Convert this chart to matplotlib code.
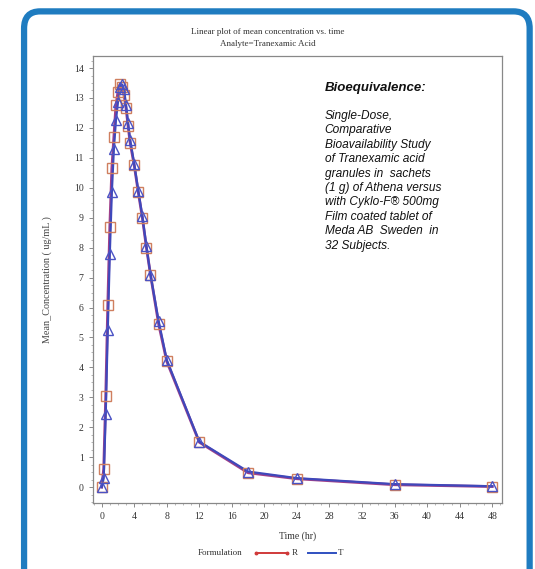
import numpy as np
import matplotlib
matplotlib.use("Agg")
import matplotlib.pyplot as plt
from matplotlib.patches import FancyBboxPatch
from matplotlib.lines import Line2D
from matplotlib.ticker import MultipleLocator

# sampling times (hr) and mean concentrations (ug/mL)
time_hr = [0, 0.25, 0.5, 0.75, 1, 1.25, 1.5, 1.75, 2, 2.25, 2.5, 2.75, 3, 3.25,
           3.5, 4, 4.5, 5, 5.5, 6, 7, 8, 12, 18, 24, 36, 48]
conc_R = [0, 0.6, 3.05, 6.08, 8.7, 10.65, 11.7, 12.75, 13.2, 13.45, 13.35, 13.1,
          12.65, 12.05, 11.5, 10.75, 9.85, 9.0, 8.0, 7.1, 5.45, 4.2, 1.5, 0.48,
          0.28, 0.08, 0.02]
conc_T = [0, 0.3, 2.45, 5.25, 7.8, 9.85, 11.3, 12.25, 12.85, 13.35, 13.45, 13.3,
          12.75, 12.15, 11.6, 10.8, 9.9, 9.05, 8.05, 7.1, 5.55, 4.25, 1.52, 0.52,
          0.3, 0.1, 0.03]
x_ticks = list(range(0, 49, 4))
y_ticks = list(range(0, 15))

serif = "Liberation Serif"
sans = "Liberation Sans"

fig = plt.figure(figsize=(5.35, 5.69), dpi=100)
fig.patch.set_facecolor("white")

# blue rounded frame around the figure
frame = FancyBboxPatch((0.045, -0.05), 0.945, 1.03,
                       boxstyle="round,pad=0,rounding_size=0.03",
                       transform=fig.transFigure, facecolor="none",
                       edgecolor="#1f7cc0", linewidth=4.5, zorder=10)
fig.patches.append(frame)

ax = fig.add_axes([0.1733, 0.1165, 0.765, 0.785])

# lines
ax.plot(time_hr, conc_R, color="#a0408a", lw=2.0, zorder=2)
ax.plot(time_hr, conc_T, color="#3f48bb", lw=1.6, zorder=3)
# markers
ax.plot(time_hr, conc_R, ls="none", marker="s", ms=7, mfc="none",
        mec="#cf7f5f", mew=1.0, zorder=4)
ax.plot(time_hr, conc_T, ls="none", marker="^", ms=7, mfc="none",
        mec="#4a52c4", mew=1.0, zorder=5)

ax.set_xlim(-1.1, 49.2)
ax.set_ylim(-0.52, 14.4)
ax.set_xticks(x_ticks)
ax.set_yticks(y_ticks)
ax.xaxis.set_minor_locator(MultipleLocator(1))
ax.yaxis.set_minor_locator(MultipleLocator(0.25))
ax.tick_params(which="major", direction="out", length=3, width=0.6,
               color="#777777", labelsize=7, labelcolor="#333333")
ax.tick_params(which="minor", direction="out", length=1.5, width=0.5,
               color="#999999")
for lab in ax.get_xticklabels() + ax.get_yticklabels():
    lab.set_fontfamily(serif)
for sp in ax.spines.values():
    sp.set_color("#888888")
    sp.set_linewidth(0.9)

ax.set_xlabel("Time (hr)", fontsize=7, family=serif, color="#333333",
              labelpad=8)
ax.set_ylabel("Mean_Concentration ( ug/mL )", fontsize=7.3, family=serif,
              color="#444444", labelpad=16)

fig.text(0.5, 0.944, "Linear plot of mean concentration vs. time",
         ha="center", va="center", fontsize=6.5, family=serif, color="#333333")
fig.text(0.5, 0.923, "Analyte=Tranexamic Acid", ha="center", va="center",
         fontsize=6.5, family=serif, color="#333333")

# annotation text
fig.text(0.607, 0.845, "Bioequivalence:", fontsize=9.5, family=sans,
         style="italic", weight="bold", color="#111111", va="center")
body = ("Single-Dose,\nComparative\nBioavailability Study\nof Tranexamic acid\n"
        "granules in  sachets\n(1 g) of Athena versus\nwith Cyklo-F\u00ae 500mg\n"
        "Film coated tablet of\nMeda AB  Sweden  in\n32 Subjects.")
fig.text(0.607, 0.807, body, fontsize=8.6, family=sans, style="italic",
         color="#111111", va="top", linespacing=1.27)

# legend row at the bottom
fig.text(0.37, 0.028, "Formulation", fontsize=6.5, family=serif,
         color="#333333", va="center")
lx = [0.478, 0.536]
fig.lines.append(Line2D(lx, [0.028, 0.028], transform=fig.transFigure,
                        color="#d03a3a", lw=1.4, marker="o", ms=1.8,
                        markevery=[0, 1]))
fig.text(0.545, 0.028, "R", fontsize=6.5, family=serif, color="#333333",
         va="center")
lx2 = [0.575, 0.628]
fig.lines.append(Line2D(lx2, [0.028, 0.028], transform=fig.transFigure,
                        color="#2f50c0", lw=1.4))
fig.text(0.632, 0.028, "T", fontsize=6.5, family=serif, color="#333333",
         va="center")

fig.savefig("out.png", dpi=100)
